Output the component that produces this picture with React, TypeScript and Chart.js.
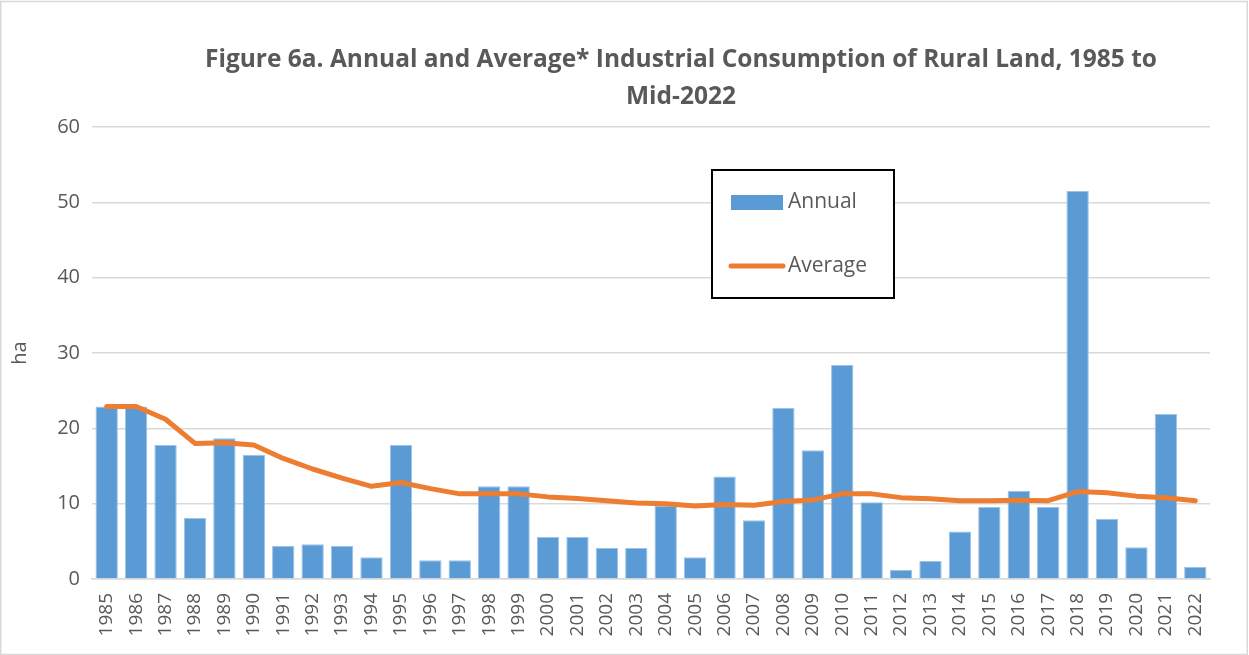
import React, { useEffect, useRef } from "react";
import { Chart, registerables } from "chart.js";
Chart.register(...registerables);

const years = [
  "1985", "1986", "1987", "1988", "1989", "1990", "1991", "1992", "1993", "1994",
  "1995", "1996", "1997", "1998", "1999", "2000", "2001", "2002", "2003", "2004",
  "2005", "2006", "2007", "2008", "2009", "2010", "2011", "2012", "2013", "2014",
  "2015", "2016", "2017", "2018", "2019", "2020", "2021", "2022",
];
const annual = [
  22.9, 22.9, 17.8, 8.1, 18.7, 16.5, 4.4, 4.6, 4.4, 2.9,
  17.8, 2.5, 2.5, 12.3, 12.3, 5.6, 5.6, 4.1, 4.1, 9.7,
  2.9, 13.6, 7.8, 22.7, 17.1, 28.4, 10.2, 1.2, 2.4, 6.3,
  9.6, 11.7, 9.6, 51.5, 8.0, 4.2, 21.9, 1.6,
];
const average = [
  22.9, 22.9, 21.2, 18.0, 18.1, 17.8, 16.0, 14.6, 13.4, 12.3,
  12.8, 12.0, 11.3, 11.3, 11.3, 10.9, 10.7, 10.4, 10.1, 10.0,
  9.7, 9.9, 9.8, 10.3, 10.5, 11.3, 11.3, 10.8, 10.65, 10.4,
  10.4, 10.45, 10.4, 11.6, 11.45, 11.0, 10.8, 10.4,
];
const seriesNames = ["Annual", "Average"];
const titleLines = [
  "Figure 6a. Annual and Average* Industrial Consumption of Rural Land, 1985 to",
  "Mid-2022",
];
const yAxisLabel = "ha";

const FONT = "'Open Sans', sans-serif";
const TEXT = "#595959";
const BLUE = "#5B9BD5";
const ORANGE = "#ED7D31";

const decorPlugin = {
  id: "decor",
  afterDraw(chart: any) {
    const ctx = chart.ctx;
    ctx.save();
    // outer border
    ctx.strokeStyle = "#d9d9d9";
    ctx.lineWidth = 1.5;
    ctx.strokeRect(0.75, 1.5, chart.width - 2.5, chart.height - 2);
    // title
    ctx.fillStyle = TEXT;
    ctx.font = "bold 24px " + FONT;
    const w = ctx.measureText(titleLines[0]).width;
    const size = Math.min(26, (24 * 952) / w);
    ctx.font = "bold " + size.toFixed(2) + "px " + FONT;
    ctx.textAlign = "center";
    ctx.textBaseline = "middle";
    ctx.fillText(titleLines[0], 681, 60);
    ctx.fillText(titleLines[1], 681, 97);
    // legend
    ctx.fillStyle = "#ffffff";
    ctx.fillRect(712, 170, 182, 128);
    ctx.strokeStyle = "#000000";
    ctx.lineWidth = 2;
    ctx.strokeRect(712, 170, 182, 128);
    ctx.fillStyle = BLUE;
    ctx.fillRect(731, 195, 52, 15);
    ctx.strokeStyle = ORANGE;
    ctx.lineWidth = 5;
    ctx.lineCap = "round";
    ctx.beginPath();
    ctx.moveTo(731, 266);
    ctx.lineTo(783, 266);
    ctx.stroke();
    ctx.fillStyle = TEXT;
    ctx.font = "21px " + FONT;
    ctx.textAlign = "left";
    ctx.fillText(seriesNames[0], 788, 202);
    ctx.fillText(seriesNames[1], 788, 266);
    ctx.restore();
  },
};

export default function App() {
  const ref = useRef<HTMLCanvasElement | null>(null);
  useEffect(() => {
    if (!ref.current) return;
    const chart = new Chart(ref.current, {
      type: "bar",
      data: {
        labels: years,
        datasets: [
          {
            type: "line",
            label: seriesNames[1],
            data: average,
            borderColor: ORANGE,
            backgroundColor: ORANGE,
            borderWidth: 5,
            pointRadius: 0,
            borderCapStyle: "round",
            borderJoinStyle: "round",
            tension: 0,
            order: 0,
          } as any,
          {
            type: "bar",
            label: seriesNames[0],
            data: annual,
            backgroundColor: BLUE,
            borderColor: "#9dc3e6",
            borderWidth: { top: 1, left: 1, right: 1, bottom: 0 },
            categoryPercentage: 1,
            barPercentage: 0.76,
            order: 1,
          } as any,
        ],
      },
      options: {
        animation: false,
        responsive: false,
        maintainAspectRatio: false,
        layout: { padding: { left: 8, right: 39, top: 127, bottom: 0 } },
        plugins: {
          legend: { display: false },
          title: { display: false },
          tooltip: { enabled: false },
        },
        scales: {
          x: {
            grid: { display: false },
            border: { color: "#d9d9d9", width: 1.5 },
            ticks: {
              color: TEXT,
              font: { family: FONT, size: 19 },
              minRotation: 90,
              maxRotation: 90,
              autoSkip: false,
              padding: 6,
            },
            afterFit: (s: any) => {
              s.height = 76;
            },
          },
          y: {
            min: 0,
            max: 60,
            grid: { color: "#d9d9d9", lineWidth: 1.5, drawTicks: false },
            border: { display: false },
            ticks: {
              stepSize: 10,
              color: TEXT,
              font: { family: FONT, size: 20 },
              padding: 12,
            },
            title: {
              display: true,
              text: yAxisLabel,
              color: TEXT,
              font: { family: FONT, size: 20 },
              padding: 0,
            },
            afterFit: (s: any) => {
              s.width = 84;
            },
          },
        },
      },
      plugins: [decorPlugin],
    });
    return () => chart.destroy();
  }, []);
  return (
    <div style={{ position: "fixed", left: 0, top: 0, width: 1249, height: 655, background: "#fff" }}>
      <canvas ref={ref} width={1249} height={655} style={{ display: "block" }} />
    </div>
  );
}
